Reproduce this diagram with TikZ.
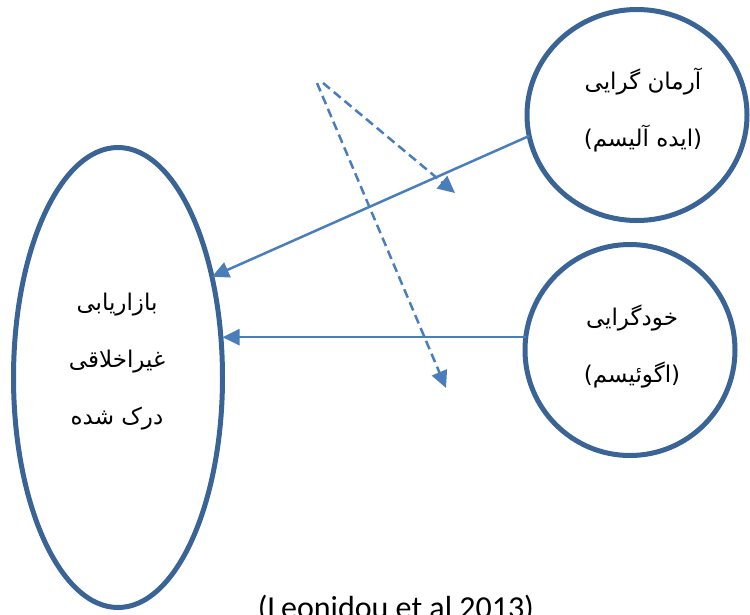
\documentclass[tikz,border=0pt]{standalone}
\usepackage{fontspec}
\setmainfont{Carlito}
\newfontfamily\arabicfont[Script=Arabic]{DejaVu Sans}
\TeXXeTstate=1
\usetikzlibrary{shapes.geometric,arrows.meta}
\definecolor{ringblue}{HTML}{3A6496}
\definecolor{arrowblue}{HTML}{4A7EBB}
\tikzset{
  ring/.style={ellipse,draw=ringblue,line width=5pt,inner sep=0pt,outer sep=0pt,fill=none},
  arr/.style={draw=arrowblue,line width=2.5pt,-{Triangle[length=17pt,width=16pt]}},
  dasharr/.style={arr,dash pattern=on 9pt off 5pt},
  fatxt/.style={align=center,font={\arabicfont\fontsize{23}{57}\selectfont},text=black},
}
\begin{document}
\begin{tikzpicture}[x=1pt,y=-1pt]
\useasboundingbox (0,0) rectangle (750,614);
\node[ring,minimum width=209pt,minimum height=460pt] (el) at (118,377.5) {};
\node[ring,minimum width=220pt,minimum height=211pt] (tr) at (637,115) {};
\node[ring,minimum width=210pt,minimum height=211pt] (br) at (630,350) {};
\node[fatxt] (eltxt) at (117,362) {\beginR بازاریابی\endR\\\beginR غیراخلاقی\endR\\\beginR درک شده\endR};
\node[fatxt] (trtxt) at (643,110) {\beginR آرمان گرایی\endR\\\beginR(ایده آلیسم)\endR};
\node[fatxt] (brtxt) at (632,346) {\beginR خودگرایی\endR\\\beginR(اگوئیسم)\endR};
\draw[arr] (tr.191) -- (el.47);
\draw[arr] (br.173) -- (br.173 -| el.east);
\coordinate (da) at (317,83);
\coordinate (db) at (323,83);
\coordinate (ta) at (455,193);
\coordinate (tb) at (446,388);
\draw[dasharr] (db) -- (ta);
\draw[dasharr] (da) -- (tb);
\node[anchor=base,font=\fontsize{32}{38}\selectfont,inner sep=0pt] (cap) at (396,618) {(Leonidou et al 2013)};
\end{tikzpicture}
\end{document}
